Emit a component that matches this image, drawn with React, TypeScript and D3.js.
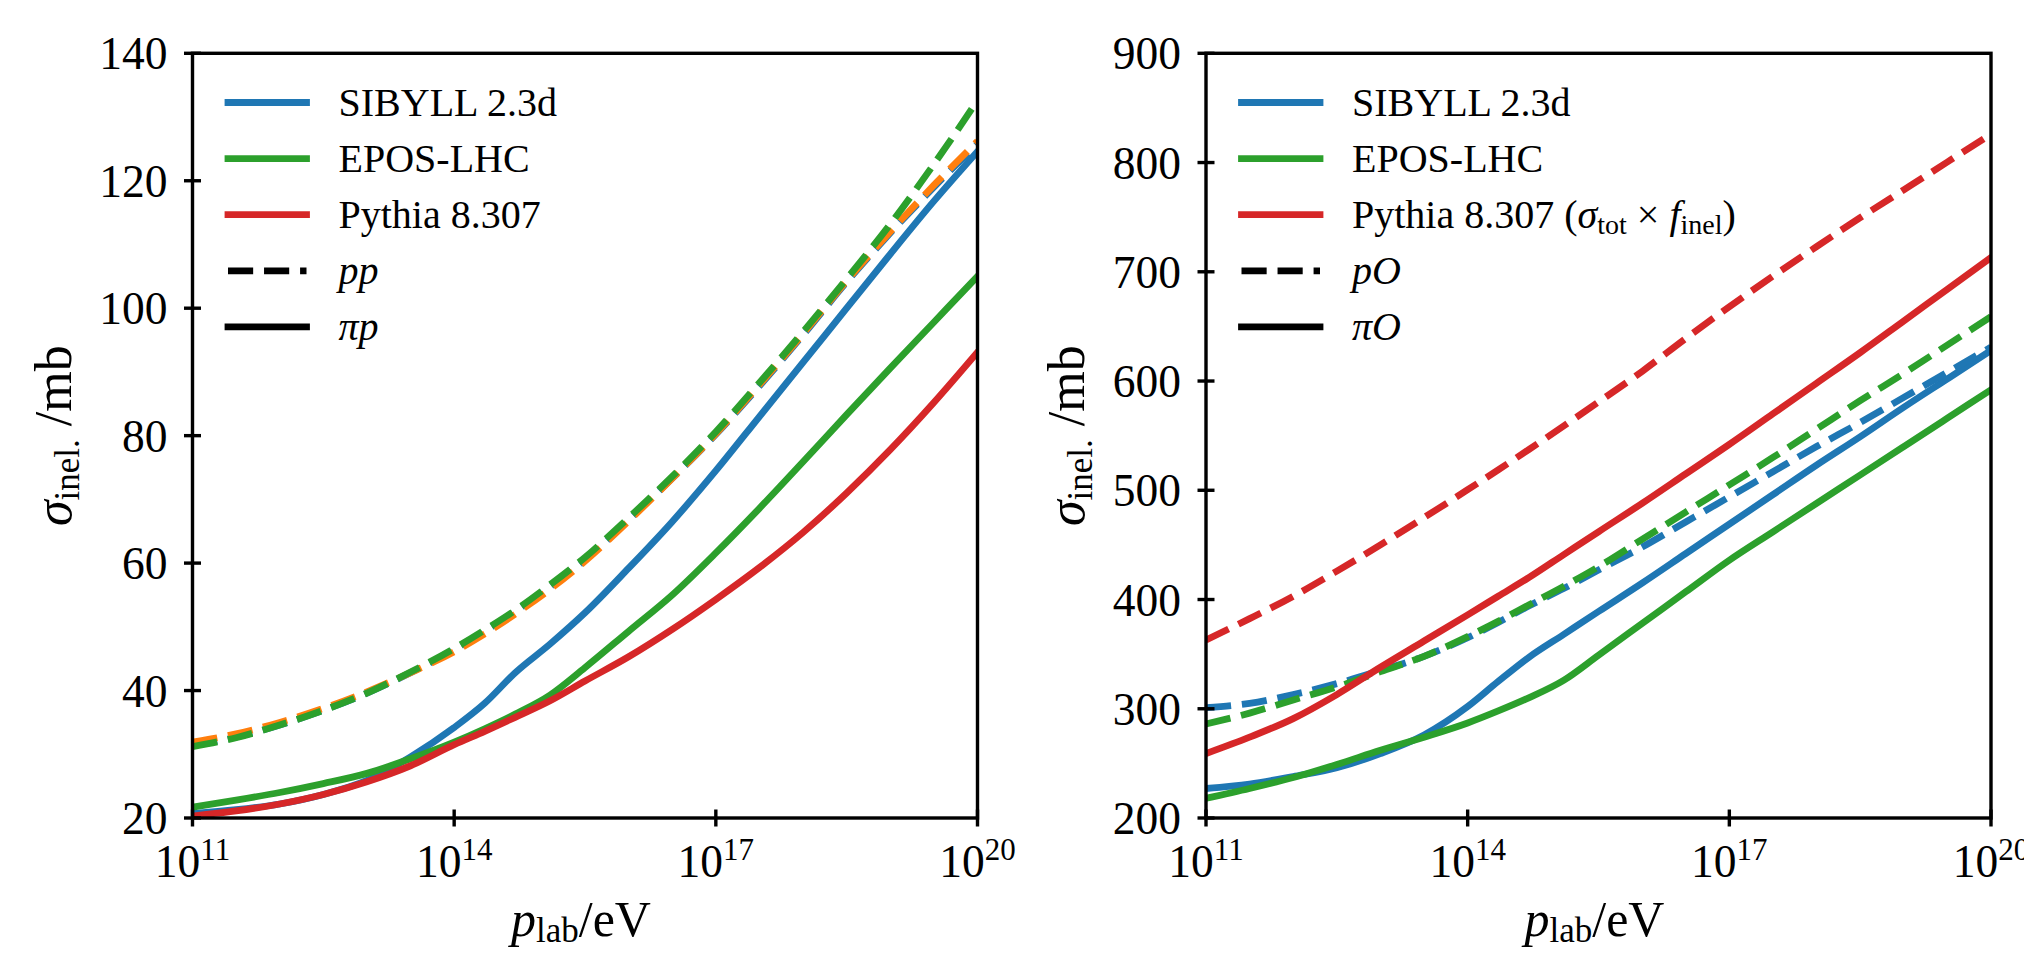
import React, { useEffect, useRef } from 'react';
import * as d3 from 'd3';

const W = 2024;
const H = 954;

// exponent of p_lab / eV
const energyExp = [11, 11.5, 12, 12.5, 13, 13.5, 14, 14.35, 14.7, 15.1, 15.5, 16, 16.5, 17, 17.5, 18, 18.5, 19, 19.5, 20];

// left panel, mb
const sibyllPP = [31.3, 32.7, 34.6, 36.9, 39.6, 42.8, 46.4, 49.3, 52.4, 56.3, 60.5, 66.8, 73.3, 80.2, 87.8, 95.8, 104.1, 111.8, 119.0, 125.8];
const orangePP = [31.9, 33.2, 35.0, 37.2, 39.8, 42.8, 46.1, 48.9, 52.0, 55.9, 60.3, 66.6, 73.3, 80.3, 88.0, 96.0, 104.3, 112.0, 119.3, 126.2];
const eposPP = [31.2, 32.6, 34.6, 36.9, 39.6, 42.9, 46.6, 49.5, 52.6, 56.6, 60.9, 67.1, 73.6, 80.6, 88.3, 96.3, 104.6, 113.2, 122.6, 132.6];
const sibyllPiP = [20.7, 21.3, 22.2, 23.7, 25.9, 29.6, 34.2, 38.0, 42.8, 47.3, 52.2, 59.2, 66.5, 74.5, 83.0, 91.5, 100.0, 108.5, 116.8, 124.6];
const eposPiP = [21.7, 22.8, 24.0, 25.4, 27.0, 29.3, 31.9, 34.0, 36.3, 39.3, 43.6, 49.3, 55.0, 61.6, 68.6, 75.9, 83.3, 90.6, 97.8, 105.0];
const pythiaPiP = [20.3, 21.1, 22.2, 23.7, 25.7, 28.2, 31.5, 33.6, 35.8, 38.4, 41.5, 45.3, 49.6, 54.3, 59.3, 64.8, 71.0, 77.8, 85.2, 93.1];

// right panel, mb
const sibyllPO = [301, 305, 313, 323, 335, 348, 365, 379, 394, 410, 427, 448, 471, 494, 517, 540, 562, 585, 608, 631];
const eposPO = [286, 296, 308, 320, 334, 348, 366, 380, 395, 412, 430, 455, 480, 505, 530, 556, 582, 607, 633, 659];
const pythiaPO = [363, 382.5, 403, 426, 450, 475, 500.5, 518.7, 537.2, 558.8, 580.8, 608.8, 639, 668, 696, 723, 749.5, 775, 800.5, 826];
const sibyllPiO = [227, 231, 238, 246, 259, 276, 302, 325, 347, 368, 389, 415, 442, 469, 496, 523, 549, 576, 602, 628];
const eposPiO = [218, 227, 237, 249, 262, 274, 287, 298, 310, 326, 349, 378, 407, 436, 462, 488, 514, 540, 566, 592];
const pythiaPiO = [259, 274, 291, 313, 338, 362, 386, 403, 420, 441, 462, 488, 515, 542, 570, 598, 626, 655, 684, 713];

const xTickExp = [11, 14, 17, 20];
const yTicksLeft = [20, 40, 60, 80, 100, 120, 140];
const yTicksRight = [200, 300, 400, 500, 600, 700, 800, 900];

const BLUE = '#1f77b4';
const ORANGE = '#ff7f0e';
const GREEN = '#2ca02c';
const RED = '#d62728';

const FONT = '"Liberation Serif", "Times New Roman", serif';
const TOP = 53.3;
const BOTTOM = 818;
const LW = 6.8;
const DASH = `${3.7 * LW},${1.6 * LW}`;

type Series = { values: number[]; color: string; dashed: boolean };
type Panel = {
  id: string;
  left: number;
  right: number;
  yDomain: [number, number];
  yTicks: number[];
  series: Series[];
  models: string[];
  projectile: [string, string]; // dashed, solid
};

function drawPanel(svg: d3.Selection<SVGSVGElement, unknown, null, undefined>, p: Panel) {
  const x = d3.scaleLog().domain([1e11, 1e20]).range([p.left, p.right]);
  const y = d3.scaleLinear().domain(p.yDomain).range([BOTTOM, TOP]);
  const g = svg.append('g');

  g.append('clipPath').attr('id', p.id)
    .append('rect')
    .attr('x', p.left).attr('y', TOP)
    .attr('width', p.right - p.left).attr('height', BOTTOM - TOP);

  const line = d3.line<number>()
    .x((_, i) => x(Math.pow(10, energyExp[i])))
    .y(v => y(v))
    .curve(d3.curveMonotoneX);

  const lines = g.append('g').attr('clip-path', `url(#${p.id})`);
  p.series.forEach(s => {
    lines.append('path')
      .attr('d', line(s.values))
      .attr('fill', 'none')
      .attr('stroke', s.color)
      .attr('stroke-width', LW)
      .attr('stroke-linecap', s.dashed ? 'butt' : 'square')
      .attr('stroke-dasharray', s.dashed ? DASH : null);
  });

  // spines
  g.append('rect')
    .attr('x', p.left).attr('y', TOP)
    .attr('width', p.right - p.left).attr('height', BOTTOM - TOP)
    .attr('fill', 'none').attr('stroke', 'black').attr('stroke-width', 3.4);

  // y ticks
  p.yTicks.forEach(t => {
    g.append('line')
      .attr('x1', p.left - 8.5).attr('x2', p.left + 8.5)
      .attr('y1', y(t)).attr('y2', y(t))
      .attr('stroke', 'black').attr('stroke-width', 3.4);
    g.append('text')
      .attr('x', p.left - 25).attr('y', y(t) + 16)
      .attr('text-anchor', 'end')
      .attr('font-family', FONT).attr('font-size', 45.5)
      .text(String(t));
  });

  // x ticks
  xTickExp.forEach(e => {
    const xx = x(Math.pow(10, e));
    g.append('line')
      .attr('x1', xx).attr('x2', xx)
      .attr('y1', BOTTOM - 8.5).attr('y2', BOTTOM + 8.5)
      .attr('stroke', 'black').attr('stroke-width', 3.4);
    const t = g.append('text')
      .attr('x', xx).attr('y', BOTTOM + 59)
      .attr('text-anchor', 'middle')
      .attr('font-family', FONT).attr('font-size', 45.5);
    t.append('tspan').text('10');
    t.append('tspan').attr('font-size', 31).attr('dy', -17).text(String(e));
  });

  // x label
  const cx = (p.left + p.right) / 2;
  const xl = g.append('text')
    .attr('x', cx - 4).attr('y', 936)
    .attr('text-anchor', 'middle')
    .attr('font-family', FONT).attr('font-size', 50);
  xl.append('tspan').attr('font-style', 'italic').text('p');
  xl.append('tspan').attr('font-size', 35).attr('dy', 6).text('lab');
  xl.append('tspan').attr('dy', -6).text('/eV');

  // y label
  const ly = (TOP + BOTTOM) / 2;
  const lx = p.left - 122;
  const yl = g.append('text')
    .attr('transform', `translate(${lx},${ly}) rotate(-90)`)
    .attr('text-anchor', 'middle')
    .attr('font-family', FONT).attr('font-size', 52);
  yl.append('tspan').attr('font-style', 'italic').text('σ');
  yl.append('tspan').attr('font-size', 35).attr('dy', 8).text('inel.');
  yl.append('tspan').attr('dy', -8).text(' /mb');

  // legend
  const lgX0 = p.left + 35.5;
  const lgX1 = p.left + 114;
  const txtX = p.left + 146;
  const colors = [BLUE, GREEN, RED];
  for (let i = 0; i < 5; i++) {
    const ry = TOP + 49.2 + i * 56.1;
    const isModel = i < 3;
    g.append('line')
      .attr('x1', lgX0).attr('x2', lgX1)
      .attr('y1', ry).attr('y2', ry)
      .attr('stroke', isModel ? colors[i] : 'black')
      .attr('stroke-width', LW)
      .attr('stroke-linecap', i === 3 ? 'butt' : 'square')
      .attr('stroke-dasharray', i === 3 ? DASH : null);
    const t = g.append('text')
      .attr('x', txtX).attr('y', ry + 13)
      .attr('font-family', FONT).attr('font-size', 40);
    if (isModel) {
      const name = p.models[i];
      if (name.includes('(σ')) {
        t.append('tspan').text('Pythia 8.307 (');
        t.append('tspan').attr('font-style', 'italic').text('σ');
        t.append('tspan').attr('font-size', 28).attr('dy', 6).text('tot');
        t.append('tspan').attr('dy', -6).text(' × ');
        t.append('tspan').attr('font-style', 'italic').text('f');
        t.append('tspan').attr('font-size', 28).attr('dy', 6).text('inel');
        t.append('tspan').attr('dy', -6).text(')');
      } else {
        t.text(name);
      }
    } else {
      t.attr('font-style', 'italic').text(p.projectile[i - 3]);
    }
  }
}

function CrossSections() {
  const ref = useRef<SVGSVGElement>(null);

  useEffect(() => {
    const svg = d3.select(ref.current as SVGSVGElement);
    svg.selectAll('*').remove();
    svg.append('rect').attr('width', W).attr('height', H).attr('fill', 'white');

    drawPanel(svg, {
      id: 'clip-left',
      left: 192.5,
      right: 977.5,
      yDomain: [20, 140],
      yTicks: yTicksLeft,
      series: [
        { values: sibyllPiP, color: BLUE, dashed: false },
        { values: sibyllPP, color: BLUE, dashed: true },
        { values: orangePP, color: ORANGE, dashed: true },
        { values: eposPiP, color: GREEN, dashed: false },
        { values: eposPP, color: GREEN, dashed: true },
        { values: pythiaPiP, color: RED, dashed: false },
      ],
      models: ['SIBYLL 2.3d', 'EPOS-LHC', 'Pythia 8.307'],
      projectile: ['pp', 'πp'],
    });

    drawPanel(svg, {
      id: 'clip-right',
      left: 1206,
      right: 1991,
      yDomain: [200, 900],
      yTicks: yTicksRight,
      series: [
        { values: sibyllPiO, color: BLUE, dashed: false },
        { values: sibyllPO, color: BLUE, dashed: true },
        { values: eposPiO, color: GREEN, dashed: false },
        { values: eposPO, color: GREEN, dashed: true },
        { values: pythiaPiO, color: RED, dashed: false },
        { values: pythiaPO, color: RED, dashed: true },
      ],
      models: ['SIBYLL 2.3d', 'EPOS-LHC', 'Pythia 8.307 (σtot × finel)'],
      projectile: ['pO', 'πO'],
    });
  }, []);

  return (
    <div style={{ position: 'absolute', left: 0, top: 0 }}>
      <svg ref={ref} width={W} height={H} style={{ display: 'block' }}></svg>
    </div>
  );
}

export default function App() {
  return <CrossSections />;
}
